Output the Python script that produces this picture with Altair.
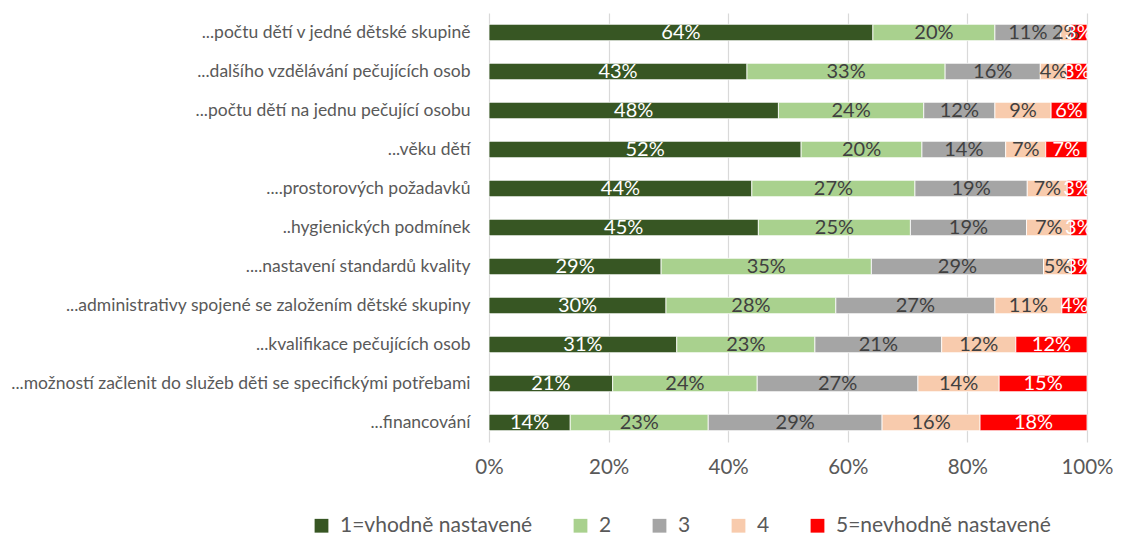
import altair as alt
import pandas as pd

categories = [
    "...počtu dětí v jedné dětské skupině",
    "...dalšího vzdělávání pečujících osob",
    "...počtu dětí na jednu pečující osobu",
    "...věku dětí",
    "....prostorových požadavků",
    "..hygienických podmínek",
    "....nastavení standardů kvality",
    "...administrativy spojené se založením dětské skupiny",
    "...kvalifikace pečujících osob",
    "...možností začlenit do služeb děti se specifickými potřebami",
    "...financování",
]
series_names = ["1=vhodně nastavené", "2", "3", "4", "5=nevhodně nastavené"]
s1 = [64.2, 43.1, 48.4, 52.2, 44.0, 45.0, 28.9, 29.6, 31.4, 20.7, 13.6]
s2 = [20.4, 33.1, 24.3, 20.2, 27.3, 25.4, 35.3, 28.4, 23.1, 24.2, 23.1]
s3 = [11.0, 15.9, 11.9, 14.0, 18.8, 19.4, 28.9, 26.6, 21.2, 26.9, 29.1]
s4 = [1.7, 4.4, 9.4, 6.7, 6.7, 7.4, 4.7, 11.2, 12.4, 13.6, 16.4]
s5 = [2.7, 3.4, 6.0, 6.9, 3.3, 2.7, 2.6, 4.2, 11.9, 14.7, 17.9]
colors = ["#375623", "#A9D18E", "#A5A5A5", "#F8CBAD", "#FF0000"]

rows = []
for si, (name, vals) in enumerate(zip(series_names, [s1, s2, s3, s4, s5])):
    for cat, v in zip(categories, vals):
        rows.append({"cat": cat, "series": name, "order": si + 1, "value": v})
df = pd.DataFrame(rows)

FONT = "Lato"

base = alt.Chart(df).transform_stack(
    stack="value",
    groupby=["cat"],
    as_=["v0", "v1"],
    offset="normalize",
    sort=[alt.SortField("order", order="ascending")],
).transform_calculate(
    mid="(datum.v0 + datum.v1) / 2",
    label="format(datum.value / 100, '.0%')",
)

y_enc = alt.Y(
    "cat:N",
    sort=categories,
    title=None,
    scale=alt.Scale(paddingInner=0.58, paddingOuter=0.29),
    axis=alt.Axis(
        domain=False, ticks=False, labelFont=FONT, labelFontSize=17.5,
        labelColor="#595959", labelPadding=19, labelLimit=700,
    ),
)

bars = base.mark_bar(stroke="white", strokeWidth=0.8).encode(
    x=alt.X(
        "v0:Q",
        title=None,
        scale=alt.Scale(domain=[0, 1], nice=False),
        axis=alt.Axis(
            values=[0, 0.2, 0.4, 0.6, 0.8, 1.0], format=".0%",
            domain=False, ticks=False, grid=True, gridColor="#D9D9D9",
            gridWidth=1.2, labelFont=FONT, labelFontSize=20.5,
            labelColor="#595959", labelPadding=15, labelFlush=False,
        ),
    ),
    x2="v1:Q",
    y=y_enc,
    color=alt.Color(
        "series:N",
        sort=series_names,
        scale=alt.Scale(domain=series_names, range=colors),
        legend=alt.Legend(
            title=None, orient="none", direction="horizontal",
            legendX=-178, legendY=502, columnPadding=37,
            symbolType="square", symbolSize=190, symbolStrokeWidth=0,
            labelFont=FONT, labelFontSize=21, labelColor="#595959",
            labelOffset=8, labelLimit=400,
        ),
    ),
)

texts = base.mark_text(font=FONT, fontSize=20).encode(
    x=alt.X("mid:Q"),
    y=alt.Y("cat:N", sort=categories),
    text="label:N",
    color=alt.condition(
        "datum.order == 1 || datum.order == 5",
        alt.value("white"),
        alt.value("#404040"),
    ),
)

chart = (
    alt.layer(bars, texts)
    .properties(
        width=598,
        height=429,
        autosize=alt.AutoSizeParams(type="none"),
        padding={"left": 481, "top": 5, "right": 26, "bottom": 92},
    )
    .configure_view(stroke=None)
)

chart.save("out.html", embed_options={"renderer": "svg", "actions": False})
